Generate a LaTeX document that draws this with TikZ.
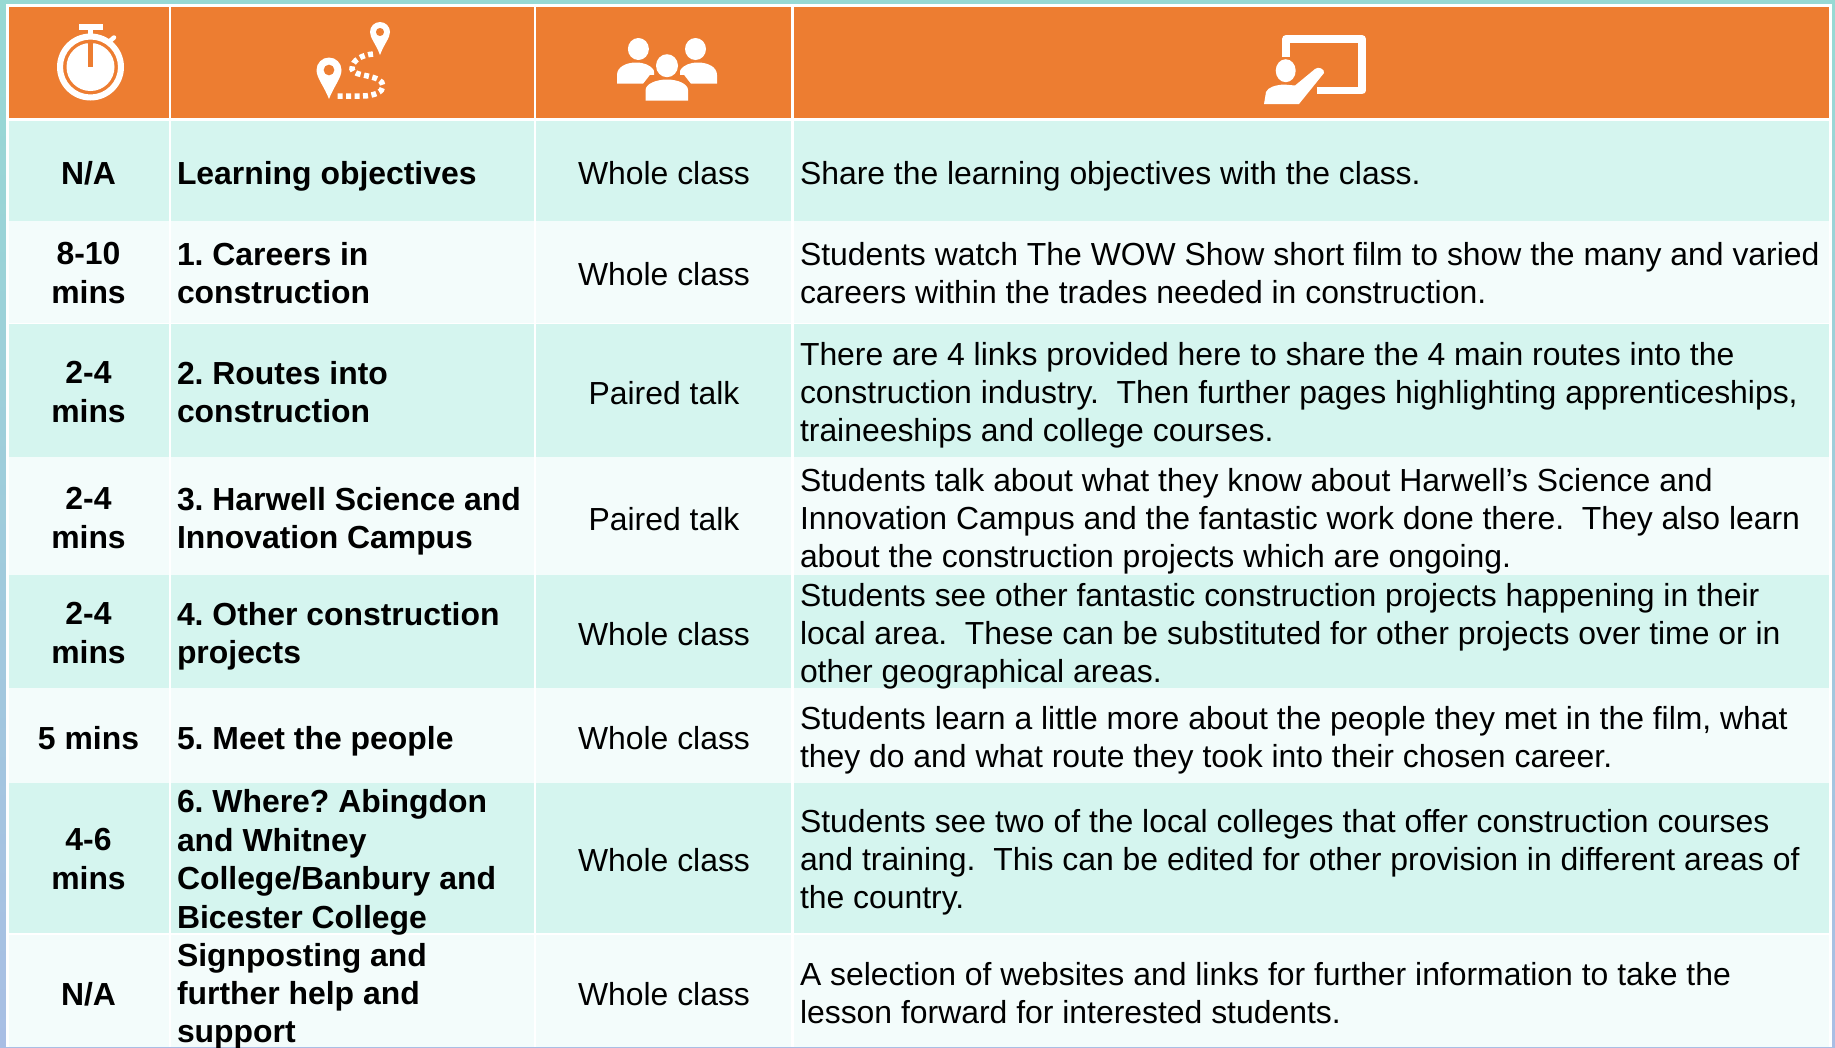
\documentclass[tikz,border=0pt]{standalone}
\usepackage{fontspec}
\setmainfont{Liberation Sans}
\frenchspacing
\definecolor{hdr}{HTML}{ED7D31}
\definecolor{rowa}{HTML}{D5F5EF}
\definecolor{rowb}{HTML}{F3FCFB}
\definecolor{bgtop}{HTML}{97D9D3}
\definecolor{bgbot}{HTML}{A9BEE4}
\newcommand{\lnstrut}{\rule[-9pt]{0pt}{33pt}}
\tikzset{
  base/.style={inner sep=0pt,outer sep=0pt,yshift=-4.5pt,execute at begin node=\lnstrut,execute at end node=\lnstrut,font=\fontsize{31.9}{38.4}\selectfont,text=black},
  timetext/.style={base,align=center,font=\fontsize{31.9}{38.4}\selectfont\bfseries},
  titletext/.style={base,align=left,anchor=west,font=\fontsize{31.9}{38.4}\selectfont\bfseries},
  modetext/.style={base,align=center},
  bodytext/.style={base,align=left,anchor=west},
  ico/.style={fill=white,draw=none},
}
\newcommand{\rowcells}[4]{%
  \fill[#3] (8.6,#1) rectangle (168.6,#2);
  \fill[#3] (171.4,#1) rectangle (533.6,#2);
  \fill[#3] (536.4,#1) rectangle (791,#2);
  \fill[#3] (794,#1) rectangle (1829,#2);
}
\begin{document}
\begin{tikzpicture}[x=1pt,y=-1pt]
\useasboundingbox (0,0) rectangle (1835,1047);
\shade[top color=bgtop,bottom color=bgbot] (0,0) rectangle (1835,1047);
\fill[white] (6,4) rectangle (1832,1047);
\rowcells{7.3}{118}{hdr}{}
\rowcells{120.7}{220.5}{rowa}{}
\rowcells{220.5}{323}{rowb}{}
\rowcells{324}{457}{rowa}{}
\rowcells{457}{575}{rowb}{}
\rowcells{575}{688}{rowa}{}
\rowcells{688}{783}{rowb}{}
\rowcells{783}{933}{rowa}{}
\rowcells{935}{1047}{rowb}{}
% stopwatch
\fill[ico,even odd rule] (90.5,67) circle[radius=33.5] (90.5,67) circle[radius=27.5];
\fill[ico] (90.5,67) circle[radius=24];
\fill[hdr] (88.4,42) rectangle (92.8,67);
\fill[ico] (78.5,24) rectangle (103,30);
\fill[ico] (88.4,30) rectangle (92.8,35);
\draw[white,line width=4.5pt,line cap=round] (110,41) -- (114,37.5);
% pins
\fill[ico,even odd rule] (329,99) .. controls (324,86) and (316.5,78) .. (316.5,70) arc[start angle=180,end angle=360,radius=12.5] .. controls (341.5,78) and (334,86) .. (329,99) -- cycle (329,70) circle[radius=5.5];
\fill[ico,even odd rule] (380,55) .. controls (376,44) and (370,38) .. (370,32) arc[start angle=180,end angle=360,radius=10] .. controls (390,38) and (384,44) .. (380,55) -- cycle (380,32) circle[radius=4.2];
\draw[white,line width=5.5pt,dash pattern=on 5pt off 3.5pt] (337.5,96) -- (362,96) .. controls (374,96) and (383,92) .. (383,86) .. controls (383,74) and (352,77) .. (352,69) .. controls (352,60) and (362,55) .. (373,54);
% people
\fill[ico] (638.4,49) ellipse[x radius=10.5,y radius=11];
\fill[ico] (695.5,49) ellipse[x radius=10.5,y radius=11];
\fill[ico] (617,83.5) -- (617,75) .. controls (617,67) and (626,62.5) .. (636,62.5) .. controls (644,62.5) and (650,65) .. (654,70) -- (654,83.5) -- cycle;
\fill[ico] (717,83.5) -- (717,75) .. controls (717,67) and (708,62.5) .. (698,62.5) .. controls (690,62.5) and (684,65) .. (680,70) -- (680,83.5) -- cycle;
\fill[hdr] (667,65.7) ellipse[x radius=14,y radius=14];
\fill[hdr] (640,88) -- (650,75) -- (684,75) -- (694,88) -- (694,105) -- (640,105) -- cycle;
\fill[ico] (667,65.7) ellipse[x radius=11,y radius=11.5];
\fill[ico] (645.6,100.5) -- (645.6,90) .. controls (645.6,84) and (656,79.5) .. (667,79.5) .. controls (678,79.5) and (688,84) .. (688,90) -- (688,100.5) -- cycle;
% teacher
\draw[white,line width=7.5pt,line join=round] (1286,57) -- (1286,38.8) -- (1362.2,38.8) -- (1362.2,90.5) -- (1317,90.5);
\fill[ico] (1285.7,70.7) ellipse[x radius=10,y radius=11.5];
\fill[ico] (1264,104) -- (1266,92) .. controls (1268,87) and (1276,85) .. (1284,84.5) -- (1295,85.5) -- (1315,69) .. controls (1318,66) and (1325,69) .. (1324,73) -- (1299,104) -- cycle;
% row 1
\node[timetext] (t1) at (88.5,172) {N/A};
\node[titletext] (c1) at (177,172) {Learning objectives};
\node[modetext] (m1) at (664,172) {Whole class};
\node[bodytext] (d1) at (800,172) {Share the learning objectives with the class.};
% row 2
\node[timetext] (t2) at (88.5,273) {8-10\\mins};
\node[titletext] (c2) at (177,273) {1. Careers in\\construction};
\node[modetext] (m2) at (664,273) {Whole class};
\node[bodytext] (d2) at (800,273) {Students watch The WOW Show short film to show the many and varied\\careers within the trades needed in construction.};
% row 3
\node[timetext] (t3) at (88.5,392) {2-4\\mins};
\node[titletext] (c3) at (177,392) {2. Routes into\\construction};
\node[modetext] (m3) at (664,392) {Paired talk};
\node[bodytext] (d3) at (800,392) {There are 4 links provided here to share the 4 main routes into the\\construction industry.\ \ Then further pages highlighting apprenticeships,\\traineeships and college courses.};
% row 4
\node[timetext] (t4) at (88.5,518) {2-4\\mins};
\node[titletext] (c4) at (177,518) {3. Harwell Science and\\Innovation Campus};
\node[modetext] (m4) at (664,518) {Paired talk};
\node[bodytext] (d4) at (800,518) {Students talk about what they know about Harwell’s Science and\\Innovation Campus and the fantastic work done there.\ \ They also learn\\about the construction projects which are ongoing.};
% row 5
\node[timetext] (t5) at (88.5,633) {2-4\\mins};
\node[titletext] (c5) at (177,633) {4. Other construction\\projects};
\node[modetext] (m5) at (664,633) {Whole class};
\node[bodytext] (d5) at (800,633) {Students see other fantastic construction projects happening in their\\local area.\ \ These can be substituted for other projects over time or in\\other geographical areas.};
% row 6
\node[timetext] (t6) at (88.5,737) {5 mins};
\node[titletext] (c6) at (177,737) {5. Meet the people};
\node[modetext] (m6) at (664,737) {Whole class};
\node[bodytext] (d6) at (800,737) {Students learn a little more about the people they met in the film, what\\they do and what route they took into their chosen career.};
% row 7
\node[timetext] (t7) at (88.5,859) {4-6\\mins};
\node[titletext] (c7) at (177,859) {6. Where? Abingdon\\and Whitney\\College/Banbury and\\Bicester College};
\node[modetext] (m7) at (664,859) {Whole class};
\node[bodytext] (d7) at (800,859) {Students see two of the local colleges that offer construction courses\\and training.\ \ This can be edited for other provision in different areas of\\the country.};
% row 8
\node[timetext] (t8) at (88.5,993) {N/A};
\node[titletext] (c8) at (177,993) {Signposting and\\further help and\\support};
\node[modetext] (m8) at (664,993) {Whole class};
\node[bodytext] (d8) at (800,993) {A selection of websites and links for further information to take the\\lesson forward for interested students.};
\end{tikzpicture}
\end{document}
